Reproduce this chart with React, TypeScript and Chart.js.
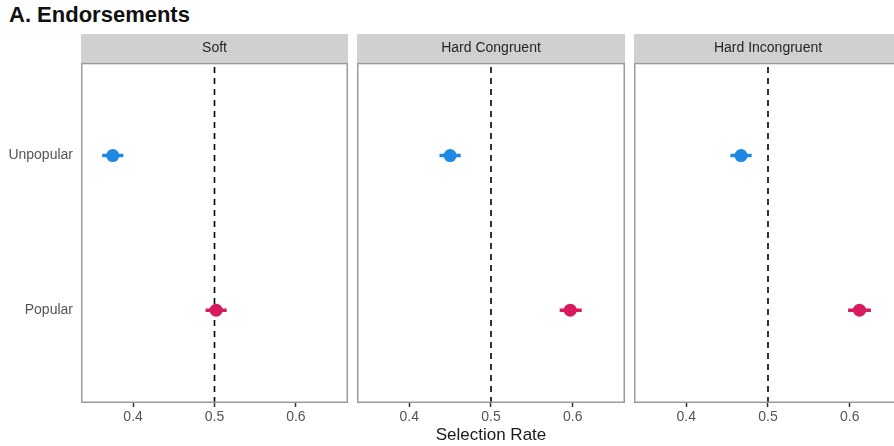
import React, { useEffect, useRef } from "react";
import { Chart, registerables } from "chart.js";

Chart.register(...registerables);

const TITLE = "A. Endorsements";
const PANELS = ["Soft", "Hard Congruent", "Hard Incongruent"];
const CATEGORIES = ["Popular", "Unpopular"]; // bottom to top
const X_TICKS = [0.4, 0.5, 0.6];
const X_MIN = 0.336;
const X_MAX = 0.664;
const REFERENCE = 0.5;
const X_TITLE = "Selection Rate";

const POPULAR_MEAN = [0.502, 0.597, 0.612];
const POPULAR_LO = [0.489, 0.584, 0.598];
const POPULAR_HI = [0.515, 0.611, 0.626];
const UNPOPULAR_MEAN = [0.375, 0.45, 0.467];
const UNPOPULAR_LO = [0.362, 0.437, 0.454];
const UNPOPULAR_HI = [0.388, 0.463, 0.48];

const POPULAR_COLOR = "#D81B60";
const UNPOPULAR_COLOR = "#1E88E5";
const FONT = "'Liberation Sans', Arial, Helvetica, sans-serif";

const stripPlugin = {
  id: "strip",
  beforeDraw(chart: any) {
    const { ctx, chartArea } = chart;
    ctx.save();
    ctx.fillStyle = "#d0d0d0";
    ctx.fillRect(chartArea.left, 0, chartArea.right - chartArea.left, chartArea.top);
    ctx.restore();
  },
  afterDraw(chart: any) {
    const { ctx, chartArea } = chart;
    ctx.save();
    ctx.strokeStyle = "#9a9a9a";
    ctx.lineWidth = 1.5;
    ctx.strokeRect(
      chartArea.left + 0.75,
      chartArea.top + 0.75,
      chartArea.right - chartArea.left - 1.5,
      chartArea.bottom - chartArea.top - 1.5
    );
    ctx.restore();
  },
};

function Panel({ index, left, width }: { index: number; left: number; width: number }) {
  const ref = useRef<HTMLCanvasElement | null>(null);
  useEffect(() => {
    if (!ref.current) return;
    const first = index === 0;
    const yPop = CATEGORIES.indexOf("Popular") + 1;
    const yUnp = CATEGORIES.indexOf("Unpopular") + 1;
    const chart = new Chart(ref.current, {
      type: "scatter",
      data: {
        datasets: [
          {
            type: "line",
            data: [
              { x: REFERENCE, y: 0.4 },
              { x: REFERENCE, y: CATEGORIES.length + 0.6 },
            ],
            borderColor: "#000",
            borderWidth: 1.6,
            borderDash: [6, 5],
            pointRadius: 0,
            order: 3,
          },
          {
            type: "line",
            data: [
              { x: UNPOPULAR_LO[index], y: yUnp },
              { x: UNPOPULAR_HI[index], y: yUnp },
            ],
            borderColor: UNPOPULAR_COLOR,
            borderWidth: 3.5,
            pointRadius: 0,
            order: 2,
          },
          {
            type: "line",
            data: [
              { x: POPULAR_LO[index], y: yPop },
              { x: POPULAR_HI[index], y: yPop },
            ],
            borderColor: POPULAR_COLOR,
            borderWidth: 3.5,
            pointRadius: 0,
            order: 2,
          },
          {
            data: [{ x: UNPOPULAR_MEAN[index], y: yUnp }],
            backgroundColor: UNPOPULAR_COLOR,
            borderWidth: 0,
            pointRadius: 6.5,
            order: 1,
          },
          {
            data: [{ x: POPULAR_MEAN[index], y: yPop }],
            backgroundColor: POPULAR_COLOR,
            borderWidth: 0,
            pointRadius: 6.5,
            order: 1,
          },
        ],
      } as any,
      options: {
        animation: false,
        responsive: false,
        maintainAspectRatio: false,
        layout: { padding: 0, autoPadding: false },
        plugins: {
          legend: { display: false },
          tooltip: { enabled: false },
          title: {
            display: true,
            text: PANELS[index],
            fullSize: false,
            color: "#262626",
            font: { family: FONT, size: 14, weight: "normal", lineHeight: 1.2 },
            padding: { top: 6, bottom: 6 },
          },
        },
        scales: {
          x: {
            type: "linear",
            min: X_MIN,
            max: X_MAX,
            afterBuildTicks: (s: any) => {
              s.ticks = X_TICKS.map((v) => ({ value: v }));
            },
            afterFit: (s: any) => {
              s.height = 43;
            },
            ticks: {
              color: "#555",
              font: { family: FONT, size: 14 },
              padding: 2,
              maxRotation: 0,
              callback: (v: any) => String(v),
            },
            grid: {
              drawOnChartArea: false,
              drawTicks: true,
              tickLength: 4,
              tickColor: "#333",
              tickWidth: 1.5,
            },
            border: { display: false },
            title: {
              display: index === 1,
              text: X_TITLE,
              color: "#1a1a1a",
              font: { family: FONT, size: 17 },
              padding: { top: 0, bottom: 0 },
            },
          },
          y: {
            type: "linear",
            display: first,
            min: 0.4,
            max: CATEGORIES.length + 0.6,
            afterBuildTicks: (s: any) => {
              s.ticks = CATEGORIES.map((_, i) => ({ value: i + 1 }));
            },
            afterFit: (s: any) => {
              s.width = first ? 81 : 0;
            },
            ticks: {
              color: "#555",
              font: { family: FONT, size: 14 },
              padding: 8,
              callback: (v: any) => CATEGORIES[Math.round(v) - 1] ?? "",
            },
            grid: {
              display: false,
              drawOnChartArea: false,
              drawTicks: false,
            },
            border: { display: false },
          },
        },
      } as any,
      plugins: [stripPlugin],
    });
    return () => chart.destroy();
  }, [index]);
  return (
    <canvas
      ref={ref}
      width={width}
      height={412}
      style={{ position: "absolute", left, top: 34, width, height: 412 }}
    />
  );
}

export default function App() {
  return (
    <div
      style={{
        position: "fixed",
        left: 0,
        top: 0,
        width: 894,
        height: 446,
        overflow: "hidden",
        background: "#fff",
      }}
    >
      <div
        style={{
          position: "absolute",
          left: 9,
          top: 4,
          font: `bold 22px ${FONT}`,
          lineHeight: "22px",
          color: "#111",
          whiteSpace: "nowrap",
        }}
      >
        {TITLE}
      </div>
      <Panel index={0} left={0} width={348} />
      <Panel index={1} left={357} width={268} />
      <Panel index={2} left={634} width={268} />
    </div>
  );
}
